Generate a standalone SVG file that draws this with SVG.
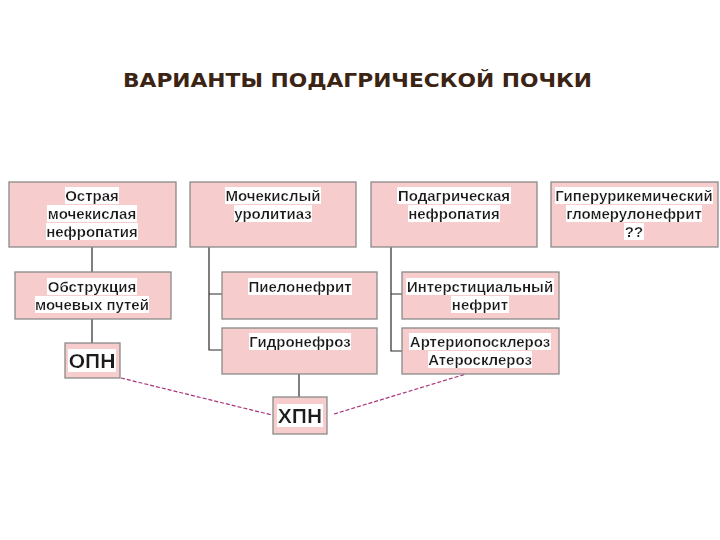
<svg xmlns="http://www.w3.org/2000/svg" width="720" height="540" viewBox="0 0 720 540">
<defs>
<filter id="hl" x="0" y="0" width="1" height="1">
<feFlood flood-color="#ffffff"/>
<feMerge><feMergeNode/><feMergeNode in="SourceGraphic"/></feMerge>
</filter>
</defs>
<style>
.box{fill:#f7cccc;stroke:#8a8a8a;stroke-width:1.3}
.t{font-family:"Liberation Sans",Arial,sans-serif;font-weight:bold;font-size:15px;fill:#1e1e1e;text-anchor:middle;filter:url(#hl)}
.big{font-size:21px}
.title{font-family:"DejaVu Sans","Liberation Sans",sans-serif;font-weight:bold;font-size:20px;fill:#3b2414}
.ln{fill:none;stroke:#2a2a2a;stroke-width:1.2}
.dash{fill:none;stroke:#a8357a;stroke-width:1.2;stroke-dasharray:4 2}
</style>
<rect width="720" height="540" fill="#ffffff"/>
<text class="title" x="123" y="87" textLength="469" lengthAdjust="spacingAndGlyphs">ВАРИАНТЫ ПОДАГРИЧЕСКОЙ ПОЧКИ</text>

<g id="connectors">
<path class="ln" d="M92 247V272M92 319V343"/>
<path class="ln" d="M209 247V350H222M209 294H222"/>
<path class="ln" d="M391 247V351H402M391 294H402"/>
<path class="ln" d="M299 374V397"/>
<path class="dash" d="M121 378L272 415"/>
<path class="dash" d="M334 414L466 374"/>
</g>

<g id="n1"><rect class="box" x="9" y="182" width="167" height="65"/>
<text class="t" x="92" y="201">Острая</text><text class="t" x="92" y="219">мочекислая</text><text class="t" x="92" y="237">нефропатия</text></g>
<g id="n2"><rect class="box" x="190" y="182" width="166" height="65"/>
<text class="t" x="273" y="201">Мочекислый</text><text class="t" x="273" y="219">уролитиаз</text></g>
<g id="n3"><rect class="box" x="371" y="182" width="166" height="65"/>
<text class="t" x="454" y="201">Подагрическая</text><text class="t" x="454" y="219">нефропатия</text></g>
<g id="n4"><rect class="box" x="551" y="182" width="167" height="65"/>
<text class="t" x="634" y="201">Гиперурикемический</text><text class="t" x="634" y="219">гломерулонефрит</text><text class="t" x="634" y="237">??</text></g>

<g id="n5"><rect class="box" x="15" y="272" width="156" height="47"/>
<text class="t" x="92" y="292">Обструкция</text><text class="t" x="92" y="310">мочевых путей</text></g>
<g id="n6"><rect class="box" x="222" y="272" width="155" height="47"/>
<text class="t" x="300" y="292">Пиелонефрит</text></g>
<g id="n7"><rect class="box" x="222" y="328" width="155" height="46"/>
<text class="t" x="300" y="347">Гидронефроз</text></g>
<g id="n8"><rect class="box" x="402" y="272" width="157" height="47"/>
<text class="t" x="480" y="292">Интерстициальный</text><text class="t" x="480" y="310">нефрит</text></g>
<g id="n9"><rect class="box" x="402" y="328" width="157" height="46"/>
<text class="t" x="480" y="347">Артериопосклероз</text><text class="t" x="480" y="365">Атеросклероз</text></g>
<g id="n10"><rect class="box" x="65" y="343" width="55" height="35"/>
<text class="t big" x="92" y="368">ОПН</text></g>
<g id="n11"><rect class="box" x="273" y="397" width="54" height="37"/>
<text class="t big" x="300" y="423">ХПН</text></g>
</svg>
